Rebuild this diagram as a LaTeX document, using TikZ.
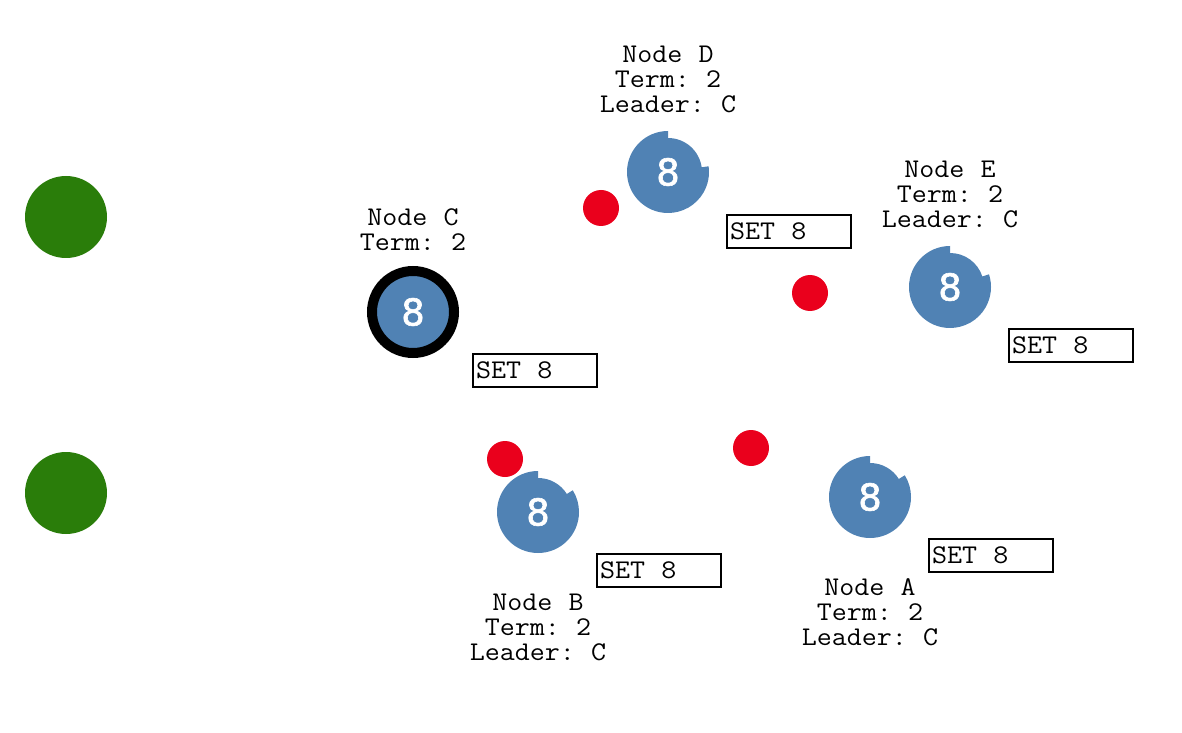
\documentclass[tikz,border=0pt]{standalone}
\usepackage{fontspec}
\setmonofont{Latin Modern Mono}[FakeStretch=1.08,WordSpace=1.08]
\newfontfamily\digitfont{DejaVu Sans}[FakeBold=1.6]
\definecolor{serverblue}{RGB}{80,130,180}
\definecolor{msgred}{RGB}{234,0,28}
\definecolor{clientgreen}{RGB}{42,125,10}
% notched server disc: full radius except a sector from the top clockwise to #2
\newcommand\timerdisc[2]{%
  \fill[serverblue] (#1) ++(90:41) arc[start angle=90,end angle={360+#2},radius=41]
    -- ($(#1)+(#2:34)$) arc[start angle=#2,end angle=90,radius=34] -- cycle;}
\newcommand\logtext[1]{\makebox[118pt][l]{#1}}
\usetikzlibrary{calc}
\begin{document}
\begin{tikzpicture}[x=1pt,y=1pt,
  client/.style={circle,fill=clientgreen,minimum size=82pt,inner sep=0pt},
  msg/.style={circle,fill=msgred,minimum size=36pt,inner sep=0pt},
  term/.style={text=white,inner sep=0pt,font=\digitfont\fontsize{37}{37}\selectfont},
  setbox/.style={draw,line width=2pt,anchor=north west,
    inner xsep=3pt,inner ysep=0pt,minimum height=33pt,
    font=\ttfamily\fontsize{27}{25}\selectfont},
  info/.style={anchor=base,inner sep=0pt,font=\ttfamily\fontsize{27}{25}\selectfont}]
\useasboundingbox (0,0) rectangle (1182,732);

% clients
\node[client] (c1) at (66,515) {};
\node[client] (c2) at (66,239) {};

% leader C
\fill[serverblue,draw=black,line width=10pt] (413,420) circle[radius=41];
\node[term] (nc) at (413,420) {8};
\node[info] (lc) at (413,506) {\begin{tabular}[t]{@{}c@{}}Node C\\Term: 2\end{tabular}};

% followers
\coordinate (pd) at (668,560);
\timerdisc{pd}{8}
\node[term] (nd) at (pd) {8};
\node[info] (ld) at (668,669) {\begin{tabular}[t]{@{}c@{}}Node D\\Term: 2\\Leader: C\end{tabular}};

\coordinate (pe) at (950,445);
\timerdisc{pe}{18}
\node[term] (ne) at (pe) {8};
\node[info] (le) at (950,554) {\begin{tabular}[t]{@{}c@{}}Node E\\Term: 2\\Leader: C\end{tabular}};

\coordinate (pb) at (538,220);
\timerdisc{pb}{32}
\node[term] (nb) at (pb) {8};
\node[info] (lb) at (538,122) {\begin{tabular}[t]{@{}c@{}}Node B\\Term: 2\\Leader: C\end{tabular}};

\coordinate (pa) at (870,235);
\timerdisc{pa}{32}
\node[term] (na) at (pa) {8};
\node[info] (la) at (870,137) {\begin{tabular}[t]{@{}c@{}}Node A\\Term: 2\\Leader: C\end{tabular}};

% messages in flight
\node[msg] (m1) at (601,524) {};
\node[msg] (m2) at (810,439) {};
\node[msg] (m3) at (505,273) {};
\node[msg] (m4) at (751,284) {};

% log entries
\node[setbox] (sd) at (726,518) {\logtext{SET 8}};
\node[setbox] (se) at (1008,404) {\logtext{SET 8}};
\node[setbox] (sc) at (472,379) {\logtext{SET 8}};
\node[setbox] (sb) at (596,179) {\logtext{SET 8}};
\node[setbox] (sa) at (928,194) {\logtext{SET 8}};
\end{tikzpicture}
\end{document}
